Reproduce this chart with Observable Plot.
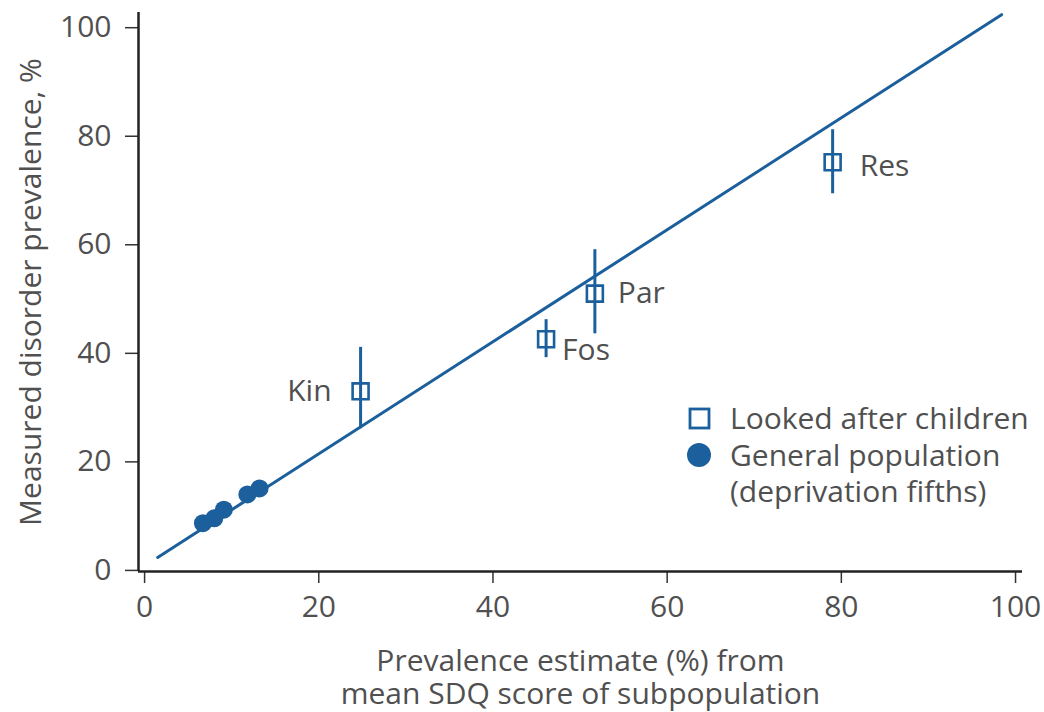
<!DOCTYPE html>
<html>
<head>
<meta charset="utf-8">
<script src="https://cdn.jsdelivr.net/npm/d3@7"></script>
<script src="https://cdn.jsdelivr.net/npm/@observablehq/plot@0.6"></script>
<style>
  html, body { margin: 0; padding: 0; background: #fff; }
  #wrap { position: relative; width: 1044px; height: 712px; font-family: "Open Sans", sans-serif; }
  #legend { position: absolute; left: 684px; top: 400px; color: #505050; font-size: 30px; line-height: 36.5px; }
  #legend .row { display: flex; align-items: center; height: 36.5px; }
  #legend svg { width: 30px; height: 30px; margin-right: 16px; flex: none; }
  #legend .indent { padding-left: 46px; height: 36.5px; }
</style>
</head>
<body>
<div id="wrap"></div>
<script>
// Looked-after children subgroups
const lacNames = ["Kin", "Fos", "Par", "Res"];
const lacEstimate = [24.8, 46.1, 51.7, 79.0];
const lacMeasured = [33.0, 42.6, 51.0, 75.2];
const lacLow = [26.1, 39.2, 43.6, 69.4];
const lacHigh = [41.1, 46.2, 59.1, 81.2];

// General population deprivation fifths
const genEstimate = [6.7, 8.0, 9.1, 11.8, 13.2];
const genMeasured = [8.7, 9.6, 11.2, 14.0, 15.1];

// Fitted line endpoints
const fitX = [1.5, 98.4];
const fitY = [2.4, 102.4];

const xTicks = [0, 20, 40, 60, 80, 100];
const yTicks = [0, 20, 40, 60, 80, 100];
const xDomain = [-0.7, 100.8];
const yDomain = [-0.2, 102.8];

const blue = "#1b5f9c";
const ink = "#505050";

const lac = lacNames.map((n, i) => ({name: n, x: lacEstimate[i], y: lacMeasured[i], lo: lacLow[i], hi: lacHigh[i]}));
const gen = genEstimate.map((x, i) => ({x, y: genMeasured[i]}));
const fit = fitX.map((x, i) => ({x, y: fitY[i]}));

const fs = 30;

const chart = Plot.plot({
  width: 1044,
  height: 712,
  marginLeft: 138,
  marginRight: 22,
  marginTop: 12,
  marginBottom: 141,
  style: {fontFamily: "'Open Sans', sans-serif", fontSize: fs + "px", color: ink, background: "white"},
  x: {domain: xDomain, axis: null},
  y: {domain: yDomain, axis: null},
  marks: [
    Plot.axisX({ticks: xTicks, tickSize: 12, tickPadding: 12, fontSize: fs, label: null, stroke: "#333", strokeWidth: 1.5, color: ink}),
    Plot.axisY({ticks: yTicks, tickSize: 13, tickPadding: 14, fontSize: fs, label: null, stroke: "#333", strokeWidth: 1.5, color: ink}),
    Plot.ruleX([xDomain[0]], {stroke: "#222", strokeWidth: 2.5}),
    Plot.ruleY([yDomain[0]], {stroke: "#222", strokeWidth: 2.5}),
    Plot.line(fit, {x: "x", y: "y", stroke: blue, strokeWidth: 3}),
    Plot.ruleX(lac, {x: "x", y1: "lo", y2: "hi", stroke: blue, strokeWidth: 3}),
    Plot.dot(lac, {x: "x", y: "y", symbol: "square", r: 9, fill: "none", stroke: blue, strokeWidth: 2.6}),
    Plot.dot(gen, {x: "x", y: "y", r: 9, fill: blue}),
    Plot.text(lac.filter(d => d.name === "Kin"), {x: "x", y: "y", text: "name", textAnchor: "end", dx: -29, dy: 0, fill: ink, fontSize: fs}),
    Plot.text(lac.filter(d => d.name === "Fos"), {x: "x", y: "y", text: "name", textAnchor: "start", dx: 16, dy: 11, fill: ink, fontSize: fs}),
    Plot.text(lac.filter(d => d.name === "Par"), {x: "x", y: "y", text: "name", textAnchor: "start", dx: 23, dy: 0, fill: ink, fontSize: fs}),
    Plot.text(lac.filter(d => d.name === "Res"), {x: "x", y: "y", text: "name", textAnchor: "start", dx: 27, dy: 4, fill: ink, fontSize: fs}),
    Plot.text(["Prevalence estimate (%) from\nmean SDQ score of subpopulation"], {frameAnchor: "bottom", lineAnchor: "top", dy: 76, lineHeight: 1.1, fill: ink, fontSize: fs}),
    Plot.text(["Measured disorder prevalence, %"], {frameAnchor: "left", textAnchor: "middle", dx: -107, rotate: -90, fill: ink, fontSize: fs})
  ]
});

const wrap = document.getElementById("wrap");
wrap.appendChild(chart);

const legend = document.createElement("div");
legend.id = "legend";
legend.innerHTML = `
  <div class="row"><svg viewBox="0 0 30 30"><rect x="6" y="6" width="19" height="19" fill="none" stroke="${blue}" stroke-width="2.8"/></svg><span>Looked after children</span></div>
  <div class="row"><svg viewBox="0 0 30 30"><circle cx="15" cy="15" r="12" fill="${blue}"/></svg><span>General population</span></div>
  <div class="indent">(deprivation fifths)</div>`;
wrap.appendChild(legend);
</script>
</body>
</html>
